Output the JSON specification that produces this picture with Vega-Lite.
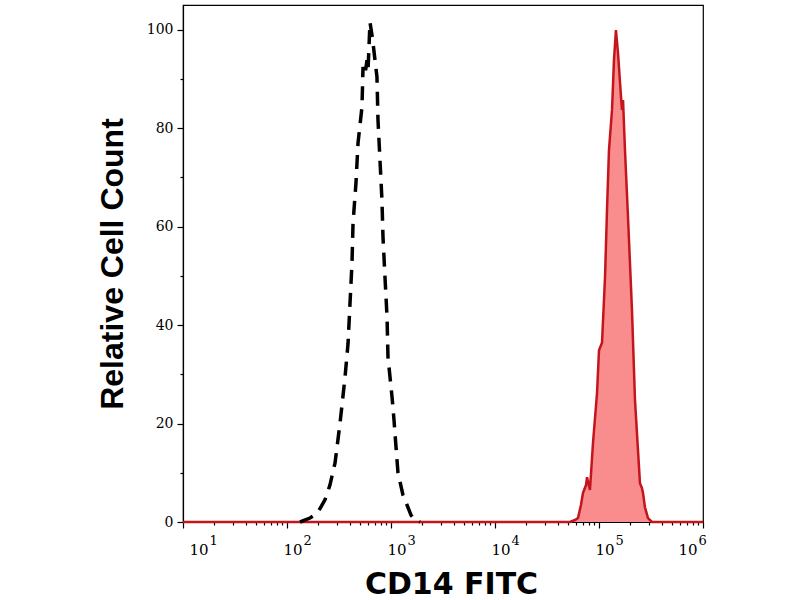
{
  "$schema": "https://vega.github.io/schema/vega-lite/v6.json",
  "width": 520,
  "height": 517,
  "autosize": {"type": "none"},
  "padding": {"left": 183, "top": 5, "right": 97, "bottom": 78},
  "background": "white",
  "config": {
    "view": {"stroke": "black", "strokeWidth": 1.2},
    "axis": {"grid": false, "domainColor": "black", "domainWidth": 1.2, "tickColor": "black", "tickWidth": 1.2, "labelColor": "black", "titleColor": "black", "labelFont": "DejaVu Serif", "labelFontSize": 14}
  },
  "datasets": {
    "stained": [
      {"intensity": 10, "count": 0},
      {"intensity": 52600, "count": 0},
      {"intensity": 58750, "count": 0.4},
      {"intensity": 62810, "count": 0.8},
      {"intensity": 67140, "count": 3.5},
      {"intensity": 70150, "count": 5.9},
      {"intensity": 74990, "count": 7.5},
      {"intensity": 76740, "count": 9.1},
      {"intensity": 81850, "count": 6.5},
      {"intensity": 87500, "count": 16.0},
      {"intensity": 95720, "count": 26.2},
      {"intensity": 100000, "count": 34.9},
      {"intensity": 106900, "count": 36.4},
      {"intensity": 114300, "count": 49.8},
      {"intensity": 119400, "count": 63.4},
      {"intensity": 124700, "count": 75.5},
      {"intensity": 133400, "count": 83.7},
      {"intensity": 139300, "count": 93.8},
      {"intensity": 145500, "count": 99.9},
      {"intensity": 152400, "count": 95.2},
      {"intensity": 162900, "count": 86.3},
      {"intensity": 166300, "count": 83.7},
      {"intensity": 170200, "count": 85.7},
      {"intensity": 177800, "count": 75.5},
      {"intensity": 190100, "count": 61.9},
      {"intensity": 207500, "count": 43.1},
      {"intensity": 221800, "count": 24.8},
      {"intensity": 237100, "count": 14.6},
      {"intensity": 247700, "count": 7.9},
      {"intensity": 258800, "count": 6.9},
      {"intensity": 264900, "count": 5.9},
      {"intensity": 276700, "count": 3.0},
      {"intensity": 295800, "count": 0.8},
      {"intensity": 323600, "count": 0},
      {"intensity": 1000000, "count": 0}
    ],
    "control": [
      {"intensity": 133.4, "count": 0},
      {"intensity": 166.3, "count": 0.8},
      {"intensity": 177.8, "count": 1.2},
      {"intensity": 198.6, "count": 2.0},
      {"intensity": 231.7, "count": 4.5},
      {"intensity": 258.8, "count": 7.5},
      {"intensity": 289.7, "count": 12.0},
      {"intensity": 323.6, "count": 20.1},
      {"intensity": 361.4, "count": 29.4},
      {"intensity": 386.4, "count": 36.3},
      {"intensity": 403.6, "count": 44.5},
      {"intensity": 421.7, "count": 52.6},
      {"intensity": 431.5, "count": 60.7},
      {"intensity": 460.3, "count": 68.8},
      {"intensity": 482.0, "count": 77.0},
      {"intensity": 526.0, "count": 84.3},
      {"intensity": 538.3, "count": 92.4},
      {"intensity": 562.3, "count": 90.8},
      {"intensity": 587.5, "count": 93.8},
      {"intensity": 601.2, "count": 91.8},
      {"intensity": 628.1, "count": 101.5},
      {"intensity": 656.2, "count": 98.9},
      {"intensity": 671.4, "count": 97.3},
      {"intensity": 732.8, "count": 90.4},
      {"intensity": 749.9, "count": 81.6},
      {"intensity": 783.4, "count": 73.5},
      {"intensity": 818.4, "count": 65.4},
      {"intensity": 837.5, "count": 57.9},
      {"intensity": 875.0, "count": 49.8},
      {"intensity": 916.2, "count": 41.6},
      {"intensity": 935.4, "count": 33.5},
      {"intensity": 1023, "count": 25.4},
      {"intensity": 1069, "count": 20.7},
      {"intensity": 1091, "count": 18.1},
      {"intensity": 1167, "count": 10.0},
      {"intensity": 1303, "count": 5.5},
      {"intensity": 1455, "count": 3.0},
      {"intensity": 1556, "count": 1.4},
      {"intensity": 1702, "count": 0.4},
      {"intensity": 1901, "count": 0}
    ]
  },
  "resolve": {"axis": {"x": "independent"}},
  "layer": [
    {
      "data": {"name": "stained"},
      "mark": {"type": "area", "color": "#f98c8c", "opacity": 1},
      "encoding": {
        "x": {
          "field": "intensity",
          "type": "quantitative",
          "scale": {"type": "log", "domain": [10, 1000000]},
          "axis": {
            "orient": "bottom",
            "title": "CD14 FITC",
            "titleFont": "DejaVu Sans",
            "titleFontSize": 30,
            "titleFontWeight": "bold",
            "titleX": 268,
            "titleY": 71,
            "titleBaseline": "alphabetic",
            "titleAlign": "center",
            "values": [10,20,30,40,50,60,70,80,90,100,200,300,400,500,600,700,800,900,1000,2000,3000,4000,5000,6000,7000,8000,9000,10000,20000,30000,40000,50000,60000,70000,80000,90000,100000,200000,300000,400000,500000,600000,700000,800000,900000,1000000],
            "labelExpr": "abs(log(datum.value)/LN10 - round(log(datum.value)/LN10)) < 0.001 ? '10' : ''",
            "tickSize": {"condition": {"test": "abs(log(datum.value)/LN10 - round(log(datum.value)/LN10)) < 0.001", "value": 6}, "value": 3},
            "labelAlign": "left",
            "labelFontSize": 15,
            "labelOffset": {"condition": [{"test": "datum.value == 10", "value": 6}, {"test": "datum.value == 1000000", "value": -25}], "value": -4},
            "labelPadding": 14,
            "labelOverlap": false
          }
        },
        "y": {
          "field": "count",
          "type": "quantitative",
          "scale": {"domain": [0, 105], "nice": false},
          "axis": {
            "title": "Relative Cell Count",
            "titleFont": "Liberation Sans",
            "titleFontSize": 32,
            "titleFontWeight": "bold",
            "titleX": -61,
            "titleY": 258.5,
            "titleAngle": 270,
            "titleBaseline": "alphabetic",
            "titleAlign": "center",
            "values": [0,5,10,15,20,25,30,35,40,45,50,55,60,65,70,75,80,85,90,95,100],
            "labelExpr": "datum.value % 20 == 0 ? datum.value : ''",
            "tickSize": {"condition": {"test": "datum.value % 20 == 0", "value": 6}, "value": 3},
            "labelPadding": 4,
            "labelOverlap": false
          }
        }
      }
    },
    {
      "data": {"name": "stained"},
      "mark": {"type": "line", "color": "#c4151c", "strokeWidth": 2.5},
      "encoding": {
        "x": {"field": "intensity", "type": "quantitative", "axis": null},
        "y": {"field": "count", "type": "quantitative"}
      }
    },
    {
      "data": {"name": "control"},
      "mark": {"type": "line", "color": "black", "strokeWidth": 3.5, "strokeDash": [14, 9]},
      "encoding": {
        "x": {
          "field": "intensity",
          "type": "quantitative",
          "axis": {
            "orient": "bottom",
            "title": null,
            "domain": false,
            "ticks": false,
            "values": [10, 100, 1000, 10000, 100000, 1000000],
            "labelExpr": "'' + round(log(datum.value)/LN10)",
            "labelFontSize": 13,
            "labelAlign": "left",
            "labelOffset": {"condition": [{"test": "datum.value == 10", "value": 26}, {"test": "datum.value == 1000000", "value": -5}], "value": 16},
            "labelPadding": 12,
            "labelOverlap": false
          }
        },
        "y": {"field": "count", "type": "quantitative"}
      }
    }
  ]
}
